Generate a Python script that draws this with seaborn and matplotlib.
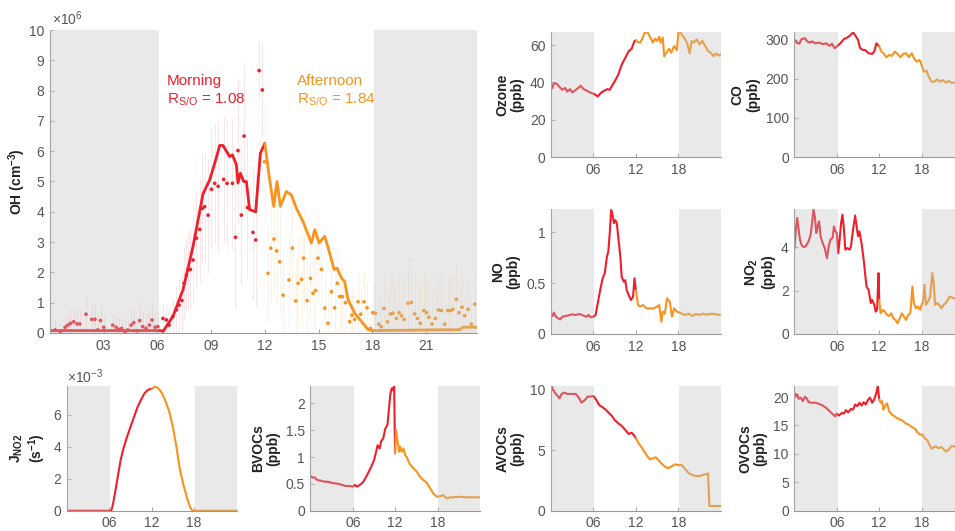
import numpy as np
import pandas as pd
import matplotlib
matplotlib.use('Agg')
import matplotlib.pyplot as plt
import seaborn as sns

sns.set_theme(style='white')
plt.rcParams['font.family'] = ['Liberation Sans', 'DejaVu Sans']
plt.rcParams['mathtext.fontset'] = 'custom'
plt.rcParams['mathtext.rm'] = 'Liberation Sans'
plt.rcParams['mathtext.bf'] = 'Liberation Sans:bold'

RED = '#ee1f2b'
ORANGE = '#f7931e'
TICK = '#555555'

# OH model line (1e6 cm-3)
oh_line_hours = [0, 3, 6.2, 6.31, 6.87, 7.43, 7.99, 8.55, 8.92, 9.2, 9.48, 9.66, 10.04, 10.19,
                 10.41, 10.5, 10.63, 10.82, 10.97, 11.15, 11.49, 11.75, 12.0, 12.27, 12.5,
                 12.68, 12.87, 13.2, 13.48, 13.76, 14.13, 14.6, 14.79, 15.03, 15.35, 15.62,
                 15.87, 16.03, 16.28, 16.46, 16.65, 17.02, 17.4, 17.77, 18.05, 21, 22.9,
                 23.07, 23.85]
oh_line_vals = [0.08, 0.08, 0.08, 0.05, 0.55, 1.43, 2.86, 4.6, 5.05, 5.6, 6.19, 6.19, 5.82,
                5.88, 5.55, 4.95, 5.27, 5.0, 5.0, 4.07, 4.0, 5.93, 6.26, 5.05, 4.18, 5.0, 4.18,
                4.67, 4.56, 4.12, 3.68, 2.97, 3.41, 2.97, 3.19, 2.64, 2.09, 2.14, 1.82, 1.7,
                1.1, 0.66, 0.38, 0.11, 0.08, 0.1, 0.11, 0.19, 0.19]

# OH observations (1e6 cm-3)
oh_obs_hours = [0.28, 0.58, 0.84, 0.99, 1.14, 1.32, 1.51, 1.66, 2.01, 2.33, 2.51, 2.66, 2.82,
                3.0, 3.5, 3.69, 3.84, 4.0, 4.19, 4.34, 4.53, 4.68, 4.86, 5.01, 5.18, 5.36,
                5.55, 5.7, 5.87, 6.02, 6.31, 6.5, 6.65, 6.85, 7.06, 7.21, 7.37, 7.49, 7.62,
                7.71, 7.84, 7.99, 8.18, 8.36, 8.51, 8.64, 8.83, 9.02, 9.2, 9.39, 9.7, 9.89,
                10.19, 10.36, 10.5, 10.69, 10.84, 11.03, 11.34, 11.49, 11.68, 11.86,
                11.99, 12.18, 12.33, 12.51, 12.66, 12.83, 13.02, 13.35, 13.54, 13.73, 13.86,
                14.05, 14.17, 14.36, 14.55, 14.69, 14.83, 14.97, 15.16, 15.35, 15.53, 15.72,
                15.9, 16.05, 16.18, 16.33, 16.5, 16.74, 16.87, 17.02, 17.21, 17.36, 17.54,
                17.71, 17.9, 18.04, 18.18, 18.36, 18.51, 18.66, 18.85, 19.02, 19.16, 19.35,
                19.5, 19.63, 19.78, 20.0, 20.19, 20.37, 20.53, 20.69, 20.88, 21.03, 21.17,
                21.34, 21.53, 21.7, 21.87, 22.05, 22.22, 22.37, 22.51, 22.7, 22.85, 23.02,
                23.17, 23.35, 23.54, 23.73]
oh_obs_vals = [0.1, 0.04, 0.19, 0.26, 0.32, 0.37, 0.3, 0.3, 0.62, 0.45, 0.45, 0.1, 0.41,
               0.19, 0.26, 0.19, 0.12, 0.15, 0.04, 0.1, 0.26, 0.34, 0.07, 0.41, 0.21, 0.15,
               0.26, 0.43, 0.19, 0.21, 0.48, 0.43, 0.26, 0.54, 0.76, 0.92, 1.07, 1.64, 1.91,
               2.08, 2.1, 2.41, 3.13, 3.42, 4.11, 4.17, 3.89, 4.74, 4.94, 4.84, 5.07, 4.94,
               4.94, 3.16, 6.02, 3.89, 6.5, 4.14, 3.32, 3.07, 8.66, 8.02,
               5.65, 1.97, 2.8, 3.1, 2.71, 2.35, 1.25, 1.75, 2.8, 1.06, 1.64, 1.77, 2.47,
               1.07, 1.8, 1.31, 1.4, 2.47, 2.1, 0.82, 0.32, 1.36, 0.83, 1.64, 1.2, 1.2, 1.0,
               0.37, 0.59, 0.45, 1.03, 0.62, 1.03, 0.83, 0.15, 0.67, 0.65, 0.29, 0.21, 0.81,
               0.37, 0.63, 0.65, 0.48, 0.67, 0.57, 0.45, 0.98, 1.01, 0.63, 0.48, 0.32, 0.74,
               0.67, 0.52, 0.29, 0.48, 0.76, 0.74, 0.29, 0.74, 0.74, 0.78, 1.11, 0.67, 0.85,
               0.57, 0.78, 0.29, 0.95]
oh_obs_err = [0.3, 0.3, 0.4, 0.4, 0.5, 0.5, 0.5, 0.5, 0.6, 0.5, 0.5, 0.5, 0.5, 0.4, 0.4, 0.4,
              0.4, 0.4, 0.4, 0.4, 0.5, 0.5, 0.4, 0.6, 0.5, 0.5, 0.5, 0.6, 0.5, 0.5, 0.5, 0.5,
              0.6, 0.6, 0.8, 0.9, 1.0, 1.2, 1.2, 1.3, 1.3, 1.5, 1.6, 1.7, 1.8, 1.8, 1.9, 2.0,
              2.0, 2.2, 2.1, 2.1, 2.2, 2.3, 2.4, 2.3, 2.4, 2.3, 2.2, 2.2, 1.0, 1.5,
              2.0, 1.6, 1.8, 1.8, 1.7, 1.7, 1.5, 1.6, 1.7, 1.4, 1.5, 1.5, 1.6, 1.3, 1.5, 1.3,
              1.3, 1.5, 1.4, 1.2, 1.0, 1.2, 1.1, 1.2, 1.1, 1.1, 1.0, 0.9, 0.9, 0.9, 1.0, 0.9,
              1.0, 0.9, 0.8, 1.0, 1.0, 0.9, 0.9, 1.1, 1.0, 1.2, 1.2, 1.2, 1.3, 1.3, 1.3, 1.5,
              1.5, 1.4, 1.3, 1.2, 1.3, 1.2, 1.2, 1.1, 1.1, 1.2, 1.1, 1.0, 1.1, 1.1, 1.1, 1.2,
              1.0, 1.1, 1.0, 1.0, 0.9, 1.0]

ozone_hours = [0, 0.2, 0.4, 0.8, 1.2, 1.6, 2.0, 2.3, 2.7, 3.0, 3.5, 4.0, 4.2, 4.6, 5.0, 5.5,
               6.0, 6.3, 6.6, 7.0, 7.5, 8.0, 8.3, 8.7, 9.0, 9.5, 10.0, 10.5, 11.0, 11.4, 11.8,
               12.0, 12.3, 12.6, 12.9, 13.2, 13.6, 14.0, 14.4, 14.7, 15.0, 15.3, 15.5, 15.8,
               16.0, 16.3, 16.7, 17.0, 17.4, 17.8, 18.0, 18.3, 18.6, 19.0, 19.3, 19.6, 19.9,
               20.2, 20.6, 21.0, 21.4, 21.8, 22.2, 22.6, 23.0, 23.3, 23.7, 24.0]
ozone_vals = [38.7, 37, 39.6, 39.3, 37.5, 36, 37, 35, 36.4, 34.6, 36, 37.5, 38.2, 36.4, 35.7,
              34.6, 33.9, 33.3, 32.4, 34.2, 35.5, 36.4, 36, 38.7, 40.5, 44.1, 49.5, 53.2,
              56.8, 58, 62.2, 62.5, 61.6, 61.3, 63.4, 66.3, 67, 64.5, 61.3, 63.4, 62.2, 64.5,
              61.3, 64, 54, 55.9, 58, 55.9, 59.5, 57.3, 66.7, 67, 64.9, 63, 60.4, 55.5, 62.2,
              61.3, 63, 60.4, 62.2, 59.5, 56.8, 55.9, 54, 55.5, 54.4, 55]

co_hours = [0, 0.3, 0.7, 1.0, 1.5, 1.8, 2.2, 2.5, 3.0, 3.5, 4.0, 4.5, 5.0, 5.3, 5.7, 6.0, 6.5,
            7.0, 7.5, 8.0, 8.3, 8.7, 9.0, 9.3, 9.7, 10.0, 10.5, 11.0, 11.3, 11.6, 12.0, 12.3,
            12.6, 13.0, 13.4, 13.8, 14.2, 14.6, 15.0, 15.4, 15.8, 16.2, 16.6, 17.0, 17.3, 17.7,
            18.0, 18.3, 18.7, 19.0, 19.4, 19.8, 20.2, 20.6, 21.0, 21.4, 21.8, 22.2, 22.6, 23.0,
            23.5, 24.0]
co_vals = [301.7, 293, 290, 301.7, 304, 296, 293, 296, 291, 293, 289, 291, 284.6, 290,
           278.6, 283, 291, 301.7, 306, 312.9, 319.7, 308.6, 300, 278.6, 274, 274, 265.7, 264,
           270, 291, 283, 270, 265.7, 255.4, 261.4, 258.9, 270, 264, 255.4, 264, 265.7,
           255.4, 265.7, 250.3, 244.3, 248.6, 235.7, 218.6, 221, 205.7, 192.9, 192.9, 198.9,
           192.9, 197, 190.3, 194.6, 190.3, 190, 192, 188, 189]

no_hours = [0, 0.2, 0.4, 0.7, 1.0, 1.3, 1.6, 2.0, 2.5, 3.0, 3.5, 4.0, 4.5, 5.0, 5.3, 5.6, 6.0,
            6.3, 6.6, 7.0, 7.3, 7.6, 7.9, 8.1, 8.3, 8.5, 8.7, 8.9, 9.1, 9.3, 9.5, 9.8, 10.0,
            10.3, 10.5, 10.7, 11.0, 11.3, 11.6, 11.8, 12.0, 12.3, 12.6, 13.0, 13.5, 14.0, 14.5,
            15.0, 15.3, 15.6, 15.8, 16.1, 16.4, 16.8, 17.1, 17.4, 17.8, 18.2, 18.6, 19.0, 19.5,
            20.0, 20.5, 21.0, 21.5, 22.0, 22.5, 23.0, 23.5, 24.0]
no_vals = [0.197, 0.177, 0.21, 0.17, 0.154, 0.144, 0.17, 0.177, 0.184, 0.193, 0.187, 0.197,
           0.184, 0.17, 0.187, 0.164, 0.17, 0.187, 0.3, 0.45, 0.548, 0.6, 0.76, 0.81, 0.99,
           1.22, 1.17, 1.09, 1.12, 1.09, 0.96, 0.76, 0.56, 0.515, 0.53, 0.43, 0.38, 0.334,
           0.367, 0.548, 0.433, 0.285, 0.27, 0.285, 0.252, 0.252, 0.252, 0.27, 0.285, 0.121,
           0.22, 0.2, 0.35, 0.318, 0.17, 0.252, 0.22, 0.21, 0.197, 0.187, 0.2, 0.177, 0.197,
           0.187, 0.2, 0.19, 0.197, 0.2, 0.19, 0.19]

no2_hours = [0, 0.2, 0.4, 0.6, 0.8, 1.0, 1.3, 1.6, 2.0, 2.3, 2.5, 2.7, 2.9, 3.1, 3.3, 3.5, 3.7,
             4.0, 4.3, 4.6, 4.9, 5.1, 5.4, 5.6, 5.8, 6.0, 6.2, 6.4, 6.6, 6.8, 7.0, 7.2, 7.5,
             7.8, 8.0, 8.3, 8.6, 8.8, 9.0, 9.2, 9.5, 9.8, 10.0, 10.2, 10.5, 10.8, 11.0, 11.3,
             11.5, 11.7, 11.9, 12.0, 12.2, 12.5, 12.8, 13.1, 13.4, 13.7, 14.0, 14.3, 14.6,
             14.9, 15.2, 15.5, 15.8, 16.1, 16.4, 16.7, 16.9, 17.2, 17.5, 17.8, 18.0, 18.2,
             18.4, 18.6, 18.9, 19.2, 19.5, 19.7, 19.9, 20.2, 20.5, 20.8, 21.1, 21.4, 21.7,
             21.9, 22.2, 22.5, 23.0, 23.5, 24.0]
no2_vals = [3.88, 4.8, 5.34, 4.8, 4.34, 4.1, 4.0, 4.03, 4.26, 4.57, 5.1, 5.72, 5.4, 4.65,
            4.95, 5.18, 4.5, 4.18, 3.95, 3.49, 4.1, 4.34, 4.42, 4.95, 4.72, 4.65, 3.72, 4.34,
            5.1, 5.49, 4.87, 3.88, 3.95, 3.88, 4.03, 4.8, 5.45, 4.95, 4.5, 4.72, 4.18, 3.42,
            2.8, 2.18, 2.03, 1.42, 1.57, 1.34, 1.03, 1.11, 2.8, 1.57, 0.95, 1.11, 1.03, 0.88,
            0.83, 0.95, 0.72, 0.65, 0.49, 0.72, 0.95, 0.8, 0.65, 0.88, 0.95, 2.18, 1.42, 1.18,
            1.26, 1.11, 1.34, 1.49, 2.26, 1.34, 1.49, 1.72, 2.8, 2.34, 1.34, 1.42, 1.34, 1.18,
            1.34, 1.42, 1.57, 1.72, 1.69, 1.65, 1.6, 1.7, 1.65]

# J(NO2), 1e-3 s-1
jno2_hours = [0, 3, 6, 6.2, 6.3, 6.5, 6.8, 7.2, 7.6, 8.0, 8.5, 9.0, 9.5, 10.0, 10.5, 11.0,
              11.5, 12.0, 12.5, 13.0, 13.5, 14.0, 14.5, 15.0, 15.5, 16.0, 16.5, 17.0, 17.5,
              17.8, 18.0, 21.0, 24.0]
jno2_vals = [0, 0, 0, 0, 0.04, 0.35, 1.08, 2.12, 3.15, 3.88, 4.6, 5.23, 5.85, 6.47, 6.93,
             7.34, 7.55, 7.61, 7.76, 7.61, 7.3, 6.78, 6.16, 5.23, 3.98, 2.53, 1.6, 0.77, 0.15,
             0, 0, 0, 0]

bvoc_hours = [0, 0.3, 0.6, 1.0, 1.5, 2.0, 2.5, 3.0, 3.5, 4.0, 4.5, 5.0, 5.5, 6.0, 6.3, 6.6,
              7.0, 7.5, 8.0, 8.5, 9.0, 9.3, 9.5, 9.8, 10.0, 10.3, 10.6, 10.9, 11.1, 11.3, 11.5,
              11.7, 11.84, 11.98, 12.12, 12.31, 12.55, 12.69, 12.92, 13.16, 13.4, 13.63, 14.0,
              14.58, 15.05, 15.5, 16.0, 16.46, 16.93, 17.4, 17.88, 18.35, 18.8, 19.3, 19.76,
              20.2, 21.2, 22.1, 23.07, 24.0]
bvoc_vals = [0.646, 0.62, 0.62, 0.57, 0.56, 0.54, 0.54, 0.52, 0.51, 0.5, 0.48, 0.46, 0.46,
             0.45, 0.48, 0.45, 0.48, 0.54, 0.66, 0.79, 0.94, 1.1, 1.22, 1.16, 1.29, 1.35, 1.53,
             1.6, 1.88, 2.16, 2.28, 2.25, 2.34, 1.07, 1.5, 1.32, 1.1, 1.19, 1.1, 1.16, 1.04,
             1.0, 0.88, 0.79, 0.73, 0.63, 0.57, 0.52, 0.42, 0.32, 0.26, 0.27, 0.29, 0.23, 0.25,
             0.25, 0.26, 0.25, 0.25, 0.25]

avoc_hours = [0, 0.3, 0.6, 1.0, 1.2, 1.5, 1.9, 2.3, 3.0, 3.5, 4.0, 4.3, 4.7, 5.2, 5.6, 6.0,
              6.4, 6.8, 7.3, 7.8, 8.2, 8.6, 9.0, 9.5, 10.0, 10.5, 11.0, 11.4, 11.8, 12.0,
              12.4, 12.8, 13.2, 13.6, 14.0, 14.4, 14.8, 15.2, 15.6, 16.0, 16.5, 17.0, 17.5,
              18.0, 18.5, 19.0, 19.5, 20.0, 20.5, 21.0, 21.5, 22.0, 22.2, 22.4, 23.0, 24.0]
avoc_vals = [10.4, 10.0, 9.72, 9.45, 9.3, 9.67, 9.78, 9.67, 9.67, 9.67, 9.3, 8.95, 9.12,
             9.45, 9.45, 9.5, 9.17, 8.76, 8.56, 8.34, 8.07, 7.85, 7.51, 7.24, 7.02, 6.69, 6.35,
             6.46, 6.19, 5.99, 5.58, 5.25, 4.89, 4.53, 4.25, 4.34, 4.42, 4.2, 3.92, 3.7, 3.51,
             3.65, 3.84, 3.78, 3.78, 3.43, 3.09, 2.96, 2.87, 2.87, 2.96, 3.04, 3.09, 0.39,
             0.39, 0.39]

ovoc_hours = [0, 0.2, 0.4, 0.6, 0.9, 1.2, 1.5, 1.8, 2.0, 2.5, 3.0, 3.5, 4.0, 4.5, 5.0, 5.5,
              5.8, 6.0, 6.3, 6.7, 7.0, 7.3, 7.6, 8.0, 8.3, 8.6, 8.9, 9.2, 9.5, 9.8, 10.1, 10.4,
              10.7, 11.0, 11.3, 11.6, 11.8, 12.0, 12.2, 12.4, 12.6, 12.8, 13.1, 13.4, 13.8,
              14.2, 14.6, 15.0, 15.4, 15.8, 16.1, 16.4, 16.8, 17.1, 17.4, 17.8, 18.1, 18.4,
              18.8, 19.1, 19.4, 19.7, 20.0, 20.4, 20.8, 21.2, 21.5, 21.8, 22.1, 22.3, 22.6,
              23.0, 23.5, 24.0]
ovoc_vals = [20.77, 20.2, 20.5, 19.7, 19.9, 19.3, 20.06, 19.7, 19.1, 19.0, 19.0, 18.8, 18.5,
             18.1, 17.5, 16.9, 16.6, 17.1, 16.75, 17.2, 17.1, 17.7, 17.3, 17.9, 17.8, 18.7,
             18.4, 19.0, 18.5, 19.1, 18.7, 19.5, 19.9, 19.0, 19.6, 20.77, 22.0, 19.6, 19.0,
             19.3, 17.8, 18.4, 18.9, 17.5, 16.9, 16.6, 16.2, 16.05, 15.75, 15.3, 15.2, 14.9,
             14.6, 14.4, 13.8, 13.4, 13.4, 12.8, 12.4, 11.6, 10.9, 11.2, 11.3, 11.0, 11.2,
             10.7, 10.4, 10.7, 11.2, 11.4, 11.3, 11.0, 10.8, 10.9]


def split_line(ax, hours, vals, lw=1.5):
    df = pd.DataFrame({'hour': hours, 'val': vals})
    n_am = int((df['hour'] < 12).sum())
    am = df.iloc[:n_am + 1] if (df['hour'] == 12).any() else df.iloc[:n_am]
    pm = df.iloc[max(n_am - 1, 0):] if not (df['hour'] == 12).any() else df.iloc[n_am:]
    sns.lineplot(data=am, x='hour', y='val', ax=ax, color=RED, lw=lw,
                 estimator=None, sort=False, zorder=2)
    sns.lineplot(data=pm, x='hour', y='val', ax=ax, color=ORANGE, lw=lw,
                 estimator=None, sort=False, zorder=2)


def style_axes(ax, xmax, ylim, yticks, ylabel, xticks, xlabels, labelpad=4):
    ax.axvspan(0, 6.1, color='#bfbfbf', alpha=0.34, lw=0, zorder=3)
    ax.axvspan(18.1, 24.5, color='#bfbfbf', alpha=0.34, lw=0, zorder=3)
    ax.set_xlim(0, xmax)
    ax.set_ylim(*ylim)
    ax.set_yticks(yticks)
    ax.set_xticks(xticks)
    ax.set_xticklabels(xlabels)
    ax.set_xlabel('')
    ax.set_ylabel(ylabel, fontsize=10, fontweight='bold', color='#222222',
                  labelpad=labelpad, linespacing=1.1)
    for s in ['top', 'right']:
        ax.spines[s].set_visible(False)
    for s in ['left', 'bottom']:
        ax.spines[s].set_color('#999999')
        ax.spines[s].set_linewidth(0.8)
    ax.tick_params(direction='in', length=3, width=0.6, colors='#999999',
                   labelcolor=TICK, labelsize=10, pad=4, left=True, bottom=True)


fig = plt.figure(figsize=(9.55, 5.31), dpi=100)

# main OH panel
ax = fig.add_axes([0.0524, 0.3729, 0.447, 0.5706])
obs = pd.DataFrame({'hour': oh_obs_hours, 'oh': oh_obs_vals, 'err': oh_obs_err})
obs['period'] = np.where(obs['hour'] < 11.95, 'Morning', 'Afternoon')
for period, col in [('Morning', RED), ('Afternoon', ORANGE)]:
    sub = obs[obs['period'] == period]
    ax.errorbar(sub['hour'], sub['oh'], yerr=sub['err'], fmt='none', ecolor=col,
                alpha=0.12, elinewidth=0.7, zorder=1)
sns.scatterplot(data=obs, x='hour', y='oh', hue='period', ax=ax, s=7,
                palette={'Morning': RED, 'Afternoon': ORANGE}, edgecolor='none',
                legend=False, zorder=2)
split_line(ax, oh_line_hours, oh_line_vals, lw=2)
style_axes(ax, 23.85, (0, 10), range(0, 11), r'OH (cm$^{\mathbf{-3}}$)',
           [3, 6, 9, 12, 15, 18, 21], ['03', '06', '09', '12', '15', '18', '21'], labelpad=1)
ax.text(0.005, 1.005, r'$\times$10$^{6}$', transform=ax.transAxes, ha='left', va='bottom',
        fontsize=10, color=TICK)
ax.text(6.52, 8.18, 'Morning', color=RED, fontsize=11, zorder=5)
ax.text(6.52, 7.58, r'R$_{\mathrm{S/O}}$ = 1.08', color=RED, fontsize=11, zorder=5)
ax.text(13.77, 8.18, 'Afternoon', color=ORANGE, fontsize=11, zorder=5)
ax.text(13.77, 7.58, r'R$_{\mathrm{S/O}}$ = 1.84', color=ORANGE, fontsize=11, zorder=5)

small_ticks = [6, 12, 18]
small_labels = ['06', '12', '18']
w = 0.1777
h = 0.2354
panels = [
    ([0.577, 0.7043], ozone_hours, ozone_vals, (0, 67), [0, 20, 40, 60], 'Ozone\n(ppb)'),
    ([0.8318, 0.7043], co_hours, co_vals, (0, 320), [0, 100, 200, 300], 'CO\n(ppb)'),
    ([0.577, 0.371], no_hours, no_vals, (0, 1.23), [0, 0.5, 1], 'NO\n(ppb)'),
    ([0.8318, 0.371], no2_hours, no2_vals, (0, 5.75), [0, 2, 4], 'NO$_{\\mathbf{2}}$\n(ppb)'),
    ([0.070, 0.0382], jno2_hours, jno2_vals, (0, 7.8), [0, 2, 4, 6],
     'J$_{\\mathbf{NO2}}$\n(s$^{\\mathbf{-1}}$)'),
    ([0.325, 0.0382], bvoc_hours, bvoc_vals, (0, 2.33), [0, 0.5, 1, 1.5, 2], 'BVOCs\n(ppb)'),
    ([0.577, 0.0382], avoc_hours, avoc_vals, (0, 10.35), [0, 5, 10], 'AVOCs\n(ppb)'),
    ([0.8318, 0.0382], ovoc_hours, ovoc_vals, (0, 22), [0, 5, 10, 15, 20], 'OVOCs\n(ppb)'),
]
for pos, hrs, vals, ylim, yt, lab in panels:
    a = fig.add_axes([pos[0], pos[1], w, h])
    split_line(a, hrs, vals, lw=1.5)
    style_axes(a, 24, ylim, yt, lab, small_ticks, small_labels)
    a.set_yticklabels([f'{t:g}' for t in yt])
    if lab.startswith('J'):
        a.text(0.0, 1.0, r'$\times$10$^{-3}$', transform=a.transAxes, ha='left',
               va='bottom', fontsize=10, color=TICK)

fig.savefig('out.png', dpi=100)
